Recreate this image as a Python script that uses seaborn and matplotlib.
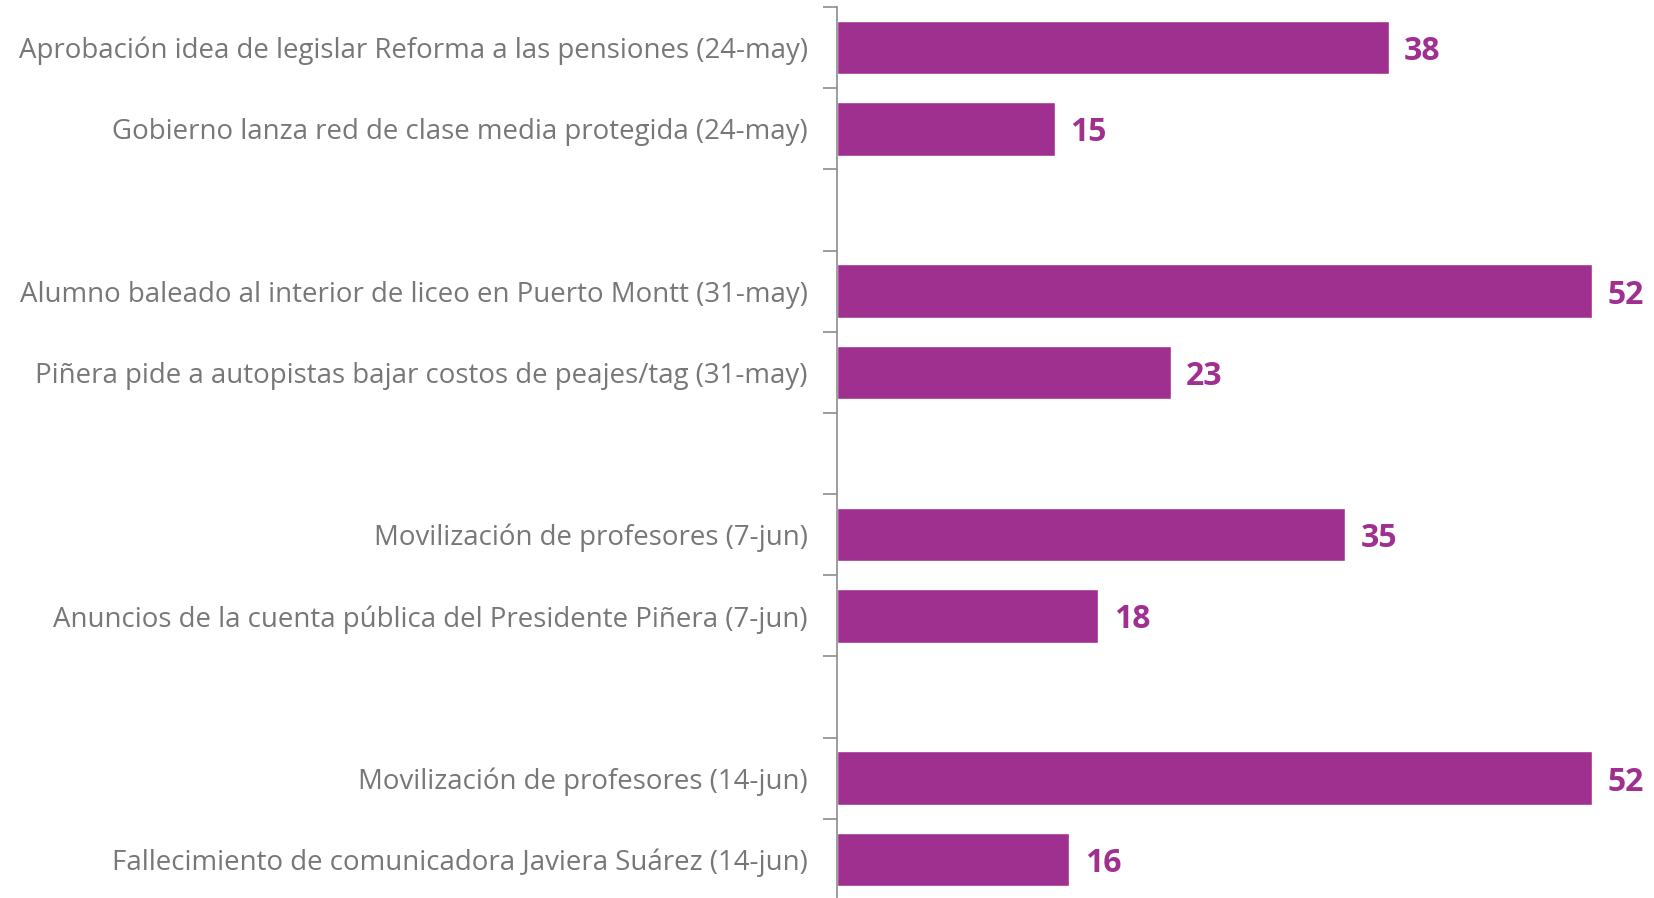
import matplotlib
matplotlib.use("Agg")
import matplotlib.pyplot as plt
import seaborn as sns
import pandas as pd
from matplotlib.ticker import FixedLocator

events = [
    "Aprobación idea de legislar Reforma a las pensiones (24-may)",
    "Gobierno lanza red de clase media protegida (24-may)",
    "Alumno baleado al interior de liceo en Puerto Montt (31-may)",
    "Piñera pide a autopistas bajar costos de peajes/tag (31-may)",
    "Movilización de profesores (7-jun)",
    "Anuncios de la cuenta pública del Presidente Piñera (7-jun)",
    "Movilización de profesores (14-jun)",
    "Fallecimiento de comunicadora Javiera Suárez (14-jun)",
]
values = [38, 15, 52, 23, 35, 18, 52, 16]

# slot order with blank separators between weeks
order = [events[0], events[1], " ", events[2], events[3], "  ",
         events[4], events[5], "   ", events[6], events[7]]

df = pd.DataFrame({"evento": events, "valor": values})

sns.set_style("white")
plt.rcParams["font.family"] = ["Open Sans", "DejaVu Sans"]

color = "#A03090"
fig = plt.figure(figsize=(16.54, 8.98), dpi=100)
ax = fig.add_axes([837/1654, -2/898, 1 - 837/1654, 893/898])

sns.barplot(data=df, y="evento", x="valor", order=order, orient="h",
            color=color, width=0.66, saturation=1, ax=ax)

for c in ax.containers:
    anns = ax.bar_label(c, padding=11, fontsize=23, fontweight="bold", color=color)
    for a in anns:
        a.xyann = (11, -2.8)

ax.set_xlim(0, (1654 - 837) / 14.52)
ax.set_ylim(len(order) - 0.5, -0.5)
ax.set_xlabel("")
ax.set_ylabel("")
ax.set_xticks([])
ax.tick_params(axis="y", which="major", length=0, pad=21, labelsize=19.9, labelcolor="#777777")
ax.yaxis.set_minor_locator(FixedLocator([i - 0.5 for i in range(len(order) + 1)]))
ax.tick_params(axis="y", which="minor", length=10, width=1.2, color="#8c8c8c", left=True)
for s in ["top", "right", "bottom"]:
    ax.spines[s].set_visible(False)
ax.spines["left"].set_color("#8c8c8c")
ax.spines["left"].set_linewidth(1.2)

fig.savefig("out.png", dpi=100)
